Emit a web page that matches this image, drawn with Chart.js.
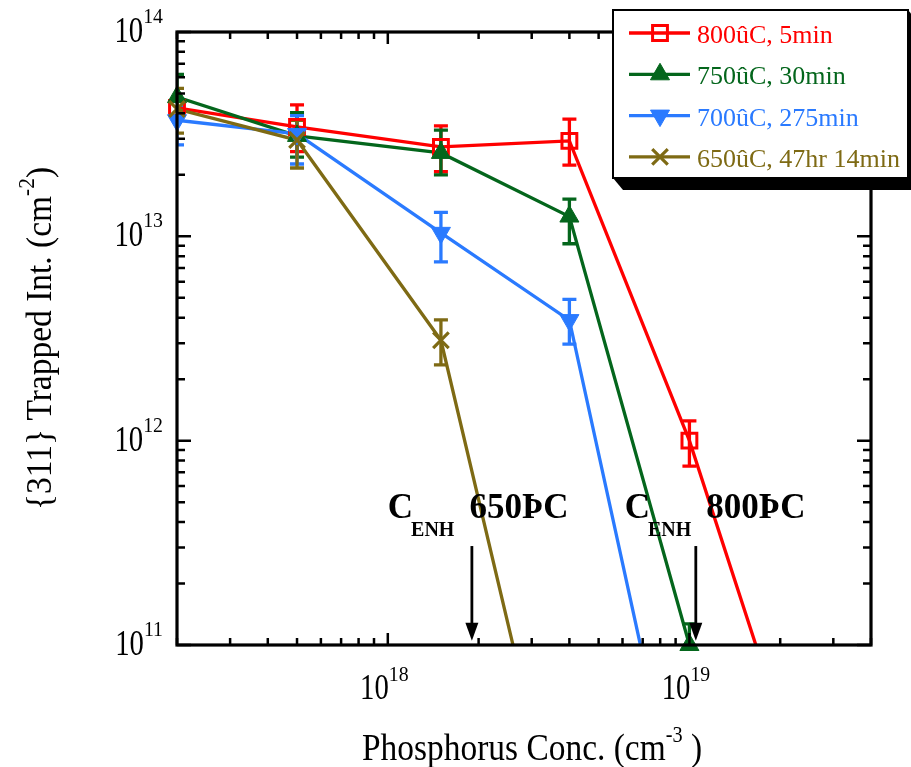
<!DOCTYPE html>
<html><head><meta charset="utf-8">
<script src="https://cdn.jsdelivr.net/npm/chart.js@4.4.1/dist/chart.umd.min.js"></script>
<style>html,body{margin:0;padding:0;background:#fff}#wrap{width:911px;height:767px;position:relative}</style>
</head><body><div id="wrap"><canvas id="c" width="911" height="767"></canvas></div>
<script>
// ---------- data ----------
const seriesNames = ['800ûC, 5min', '750ûC, 30min', '700ûC, 275min', '650ûC, 47hr 14min'];

const conc800 = [2e17, 5e17, 1.5e18, 4e18, 1e19, 2e19];
const trap800 = [4.25e13, 3.43e13, 2.74e13, 2.93e13, 1.0e12, 4.3e10];
const hi800   = [4.6e13, 4.4e13, 3.47e13, 3.75e13, 1.25e12, null];
const lo800   = [3.9e13, 2.6e13, 2.07e13, 2.23e13, 7.5e11, null];

const conc750 = [2e17, 5e17, 1.5e18, 4e18, 1e19];
const trap750 = [4.8e13, 3.1e13, 2.56e13, 1.25e13, 1.0e11];
const hi750   = [6.2e13, 4.03e13, 3.31e13, 1.52e13, 1.27e11];
const lo750   = [4.0e13, 2.44e13, 2.0e13, 9.2e12, 7.5e10];

const conc700 = [2e17, 5e17, 1.5e18, 4e18, 1e19];
const trap700 = [3.7e13, 3.17e13, 1.04e13, 3.89e12, 8e9];
const hi700   = [4.3e13, 3.9e13, 1.31e13, 4.92e12, null];
const lo700   = [2.8e13, 2.26e13, 7.5e12, 2.97e12, null];

const conc650 = [2e17, 5e17, 1.5e18, 4e18];
const trap650 = [4.2e13, 2.96e13, 3.1e12, 6.8e9];
const hi650   = [5.3e13, 3.7e13, 3.9e12, null];
const lo650   = [3.2e13, 2.16e13, 2.35e12, null];

const xMin = 2e17, xMax = 4e19, yMin = 1e11, yMax = 1e14;
const xTickValues = [1e18, 1e19], xTickExp = ['18', '19'];
const yTickValues = [1e11, 1e12, 1e13, 1e14], yTickExp = ['11', '12', '13', '14'];

const xTitle = ['Phosphorus Conc. (cm', '-3', ' )'];
const yTitle = ['{311} Trapped Int. (cm', '-2', ')'];

const annArrowConc = [1.9e18, 1.05e19];
const annLabelConc = [1.0e18, 6.1e18];
const annTemp = ['650ÞC', '800ÞC'];
const annTextLevel = 4.2e11, annArrowTop = 3.05e11, annArrowTip = 1.05e11;

// ---------- styles ----------
const colors = ['#FF0000', '#04661C', '#2A7AFF', '#7E6A14'];
const FONT = '"Liberation Serif", "Times New Roman", serif';
const series = [
  {name: seriesNames[0], color: colors[0], x: conc800, y: trap800, hi: hi800, lo: lo800, style: 'rect', rot: 0, fill: false, r: 10.5, bw: 3},
  {name: seriesNames[1], color: colors[1], x: conc750, y: trap750, hi: hi750, lo: lo750, style: 'triangle', rot: 0, fill: true, r: 11, bw: 1},
  {name: seriesNames[2], color: colors[2], x: conc700, y: trap700, hi: hi700, lo: lo700, style: 'triangle', rot: 180, fill: true, r: 11, bw: 1},
  {name: seriesNames[3], color: colors[3], x: conc650, y: trap650, hi: hi650, lo: lo650, style: 'crossRot', rot: 0, fill: false, r: 11, bw: 3.2}
];

const datasets = [];
series.slice().reverse().forEach(s => {
  const pts = s.x.map((v, i) => ({x: v, y: s.y[i]}));
  datasets.push({
    label: s.name + ' markers', data: pts, showLine: false, clip: false, order: 0,
    pointStyle: s.style, pointRotation: s.rot,
    pointRadius: c => (c.raw && c.raw.y < yMin * 0.999) ? 0 : s.r,
    pointBackgroundColor: s.fill ? s.color : 'rgba(0,0,0,0)',
    pointBorderColor: s.color, pointBorderWidth: s.bw
  });
});
series.slice().reverse().forEach(s => {
  const pts = s.x.map((v, i) => ({x: v, y: s.y[i]}));
  datasets.push({
    label: s.name, data: pts, borderColor: s.color, borderWidth: 3.3, pointRadius: 0,
    fill: false, tension: 0, order: 5
  });
});

function txt(ctx, s, x, y, font, color, align, sx) {
  ctx.save();
  ctx.font = font; ctx.fillStyle = color; ctx.textBaseline = 'alphabetic'; ctx.textAlign = align || 'left';
  ctx.translate(x, y); ctx.scale(sx || 1, 1);
  ctx.fillText(s, 0, 0);
  ctx.restore();
}
function tw(ctx, s, font, sx) { ctx.save(); ctx.font = font; const w = ctx.measureText(s).width * (sx || 1); ctx.restore(); return w; }

function marker(ctx, s, x, y) {
  ctx.save();
  ctx.strokeStyle = s.color; ctx.fillStyle = s.fill ? s.color : 'rgba(0,0,0,0)'; ctx.lineWidth = s.bw;
  ctx.beginPath();
  const r = s.r;
  if (s.style === 'rect') {
    const h = r * Math.SQRT1_2; ctx.rect(x - h, y - h, 2 * h, 2 * h);
  } else if (s.style === 'triangle') {
    let a = s.rot * Math.PI / 180;
    ctx.moveTo(x + Math.sin(a) * r, y - Math.cos(a) * r);
    a += 2 * Math.PI / 3; ctx.lineTo(x + Math.sin(a) * r, y - Math.cos(a) * r);
    a += 2 * Math.PI / 3; ctx.lineTo(x + Math.sin(a) * r, y - Math.cos(a) * r);
    ctx.closePath();
  } else {
    const h = r * Math.SQRT1_2;
    ctx.moveTo(x - h, y - h); ctx.lineTo(x + h, y + h);
    ctx.moveTo(x - h, y + h); ctx.lineTo(x + h, y - h);
  }
  ctx.fill(); ctx.stroke();
  ctx.restore();
}

const decor = {
  id: 'decor',
  beforeDatasetsDraw(chart) {
    const {ctx, chartArea: a, scales: {x, y}} = chart;
    ctx.save();
    ctx.beginPath(); ctx.rect(a.left, a.top - 30, a.right - a.left, a.bottom - a.top + 30); ctx.clip();
    series.forEach(s => {
      ctx.strokeStyle = s.color; ctx.lineWidth = 3.3;
      s.x.forEach((cx, i) => {
        const hi = s.hi[i], lo = s.lo[i];
        if (hi == null || lo == null) return;
        const px = x.getPixelForValue(cx), pt = y.getPixelForValue(hi), pb = y.getPixelForValue(lo);
        ctx.beginPath();
        ctx.moveTo(px, pt); ctx.lineTo(px, pb);
        ctx.moveTo(px - 7, pt); ctx.lineTo(px + 7, pt);
        ctx.moveTo(px - 7, pb); ctx.lineTo(px + 7, pb);
        ctx.stroke();
      });
    });
    ctx.restore();
  },
  afterDraw(chart) {
    const {ctx, chartArea: a, scales: {x, y}} = chart;
    ctx.save();
    // ticks
    ctx.strokeStyle = '#000'; ctx.lineWidth = 2.5;
    ctx.beginPath();
    for (let e = 17; e <= 19; e++) for (let m = 1; m <= 9; m++) {
      const v = m * Math.pow(10, e); if (v < xMin * 0.999 || v > xMax * 1.001) continue;
      const px = x.getPixelForValue(v), L = m === 1 ? 12 : 7;
      ctx.moveTo(px, a.bottom); ctx.lineTo(px, a.bottom - L);
      ctx.moveTo(px, a.top); ctx.lineTo(px, a.top + L);
    }
    for (let e = 11; e <= 14; e++) for (let m = 1; m <= 9; m++) {
      const v = m * Math.pow(10, e); if (v < yMin * 0.999 || v > yMax * 1.001) continue;
      const py = y.getPixelForValue(v), L = m === 1 ? 14 : 8;
      ctx.moveTo(a.left, py); ctx.lineTo(a.left + L, py);
      ctx.moveTo(a.right, py); ctx.lineTo(a.right - L, py);
    }
    ctx.stroke();
    // frame
    ctx.lineWidth = 3.2;
    ctx.strokeRect(a.left, a.top, a.right - a.left, a.bottom - a.top);

    // tick labels
    const fMain = '35px ' + FONT, fSup = '22px ' + FONT, sxT = 0.82, sxS = 0.9;
    xTickValues.forEach((v, i) => {
      const px = x.getPixelForValue(v);
      txt(ctx, '10', px + 1, 699, fMain, '#000', 'right', sxT);
      txt(ctx, xTickExp[i], px + 1, 681, fSup, '#000', 'left', sxS);
    });
    yTickValues.forEach((v, i) => {
      const py = y.getPixelForValue(v);
      const ws = tw(ctx, yTickExp[i], fSup, sxS);
      const xr = a.left - 14;
      txt(ctx, yTickExp[i], xr - ws, py - 9, fSup, '#000', 'left', sxS);
      txt(ctx, '10', xr - ws, py + 10, fMain, '#000', 'right', sxT);
    });

    // axis titles
    const fT = '38px ' + FONT, fTs = '23px ' + FONT, sxX = 0.88;
    {
      const w0 = tw(ctx, xTitle[0], fT, sxX), w1 = tw(ctx, xTitle[1], fTs, sxX), w2 = tw(ctx, xTitle[2], fT, sxX);
      let sx0 = (a.left + a.right) / 2 - (w0 + w1 + w2) / 2 + 8;
      txt(ctx, xTitle[0], sx0, 760, fT, '#000', 'left', sxX);
      txt(ctx, xTitle[1], sx0 + w0, 742, fTs, '#000', 'left', sxX);
      txt(ctx, xTitle[2], sx0 + w0 + w1, 760, fT, '#000', 'left', sxX);
    }
    {
      const sxY = 0.93, fY = '36px ' + FONT;
      ctx.save();
      ctx.translate(51, (a.top + a.bottom) / 2);
      ctx.rotate(-Math.PI / 2);
      const w0 = tw(ctx, yTitle[0], fY, sxY), w1 = tw(ctx, yTitle[1], fTs, sxY), w2 = tw(ctx, yTitle[2], fY, sxY);
      let s0 = -(w0 + w1 + w2) / 2;
      txt(ctx, yTitle[0], s0, 0, fY, '#000', 'left', sxY);
      txt(ctx, yTitle[1], s0 + w0, -17, fTs, '#000', 'left', sxY);
      txt(ctx, yTitle[2], s0 + w0 + w1, 0, fY, '#000', 'left', sxY);
      ctx.restore();
    }

    // annotations
    const fC = 'bold 35px ' + FONT, fSub = 'bold 20px ' + FONT;
    annArrowConc.forEach((v, i) => {
      const ax = x.getPixelForValue(v);
      const yTop = y.getPixelForValue(annArrowTop), yTip = y.getPixelForValue(annArrowTip);
      ctx.strokeStyle = '#000'; ctx.fillStyle = '#000'; ctx.lineWidth = 2.8;
      ctx.beginPath(); ctx.moveTo(ax, yTop); ctx.lineTo(ax, yTip - 14); ctx.stroke();
      ctx.beginPath(); ctx.moveTo(ax - 6.5, yTip - 18); ctx.lineTo(ax + 6.5, yTip - 18); ctx.lineTo(ax, yTip); ctx.closePath(); ctx.fill();
      const lx = x.getPixelForValue(annLabelConc[i]), ly = y.getPixelForValue(annTextLevel);
      const wc = tw(ctx, 'C', fC);
      txt(ctx, 'C', lx, ly, fC, '#000');
      const we = tw(ctx, 'ENH', fSub);
      txt(ctx, 'ENH', lx + wc - 2, ly + 18, fSub, '#000');
      txt(ctx, annTemp[i], lx + wc - 2 + we + 15, ly, fC, '#000');
    });

    // legend
    const L = {x0: 613, y0: 10, x1: 908, y1: 178};
    ctx.fillStyle = '#000';
    ctx.beginPath();
    ctx.moveTo(L.x0, L.y1); ctx.lineTo(L.x0 + 10, L.y1 + 12); ctx.lineTo(L.x1 + 10, L.y1 + 12);
    ctx.lineTo(L.x1 + 10, L.y0 + 12); ctx.lineTo(L.x1, L.y0); ctx.closePath(); ctx.fill();
    ctx.fillStyle = '#fff'; ctx.fillRect(L.x0, L.y0, L.x1 - L.x0, L.y1 - L.y0);
    ctx.strokeStyle = '#000'; ctx.lineWidth = 2; ctx.strokeRect(L.x0, L.y0, L.x1 - L.x0, L.y1 - L.y0);
    const fL = '26px ' + FONT;
    series.forEach((s, i) => {
      const cy = 33 + i * 41.3;
      ctx.strokeStyle = s.color; ctx.lineWidth = 3.3;
      ctx.beginPath(); ctx.moveTo(629, cy); ctx.lineTo(690, cy); ctx.stroke();
      marker(ctx, s, 660, cy);
      txt(ctx, s.name, 697, cy + 10, fL, s.color, 'left', 1);
    });
    ctx.restore();
  }
};

new Chart(document.getElementById('c'), {
  type: 'line',
  data: {datasets},
  options: {
    responsive: false, animation: false, events: [], devicePixelRatio: 1,
    layout: {padding: {left: 177, top: 32, right: 911 - 871, bottom: 767 - 645}},
    scales: {
      x: {type: 'logarithmic', min: xMin, max: xMax, display: false},
      y: {type: 'logarithmic', min: yMin, max: yMax, display: false}
    },
    plugins: {legend: {display: false}, tooltip: {enabled: false}}
  },
  plugins: [decor]
});
</script>
</body></html>
